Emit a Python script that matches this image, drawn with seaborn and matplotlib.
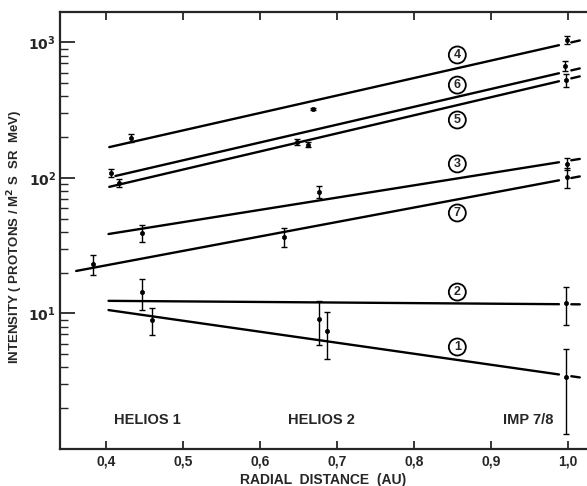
import numpy as np
import matplotlib.pyplot as plt
import seaborn as sns

# Proton intensity vs radial distance, channels 1-7
channels = ["1", "2", "3", "4", "5", "6", "7"]

# measured points (radial distance in AU, intensity, 1-sigma error)
r_pts = {
    "1": [0.460, 0.687, 0.997],
    "2": [0.447, 0.677, 0.997],
    "3": [0.447, 0.677, 0.998],
    "4": [0.432, 0.668, 0.999],
    "5": [0.417, 0.662, 0.997],
    "6": [0.406, 0.648, 0.996],
    "7": [0.383, 0.631, 0.998],
}
i_pts = {
    "1": [8.95, 7.43, 3.4],
    "2": [14.4, 9.1, 11.9],
    "3": [39.3, 78.9, 127],
    "4": [197, 323, 1043],
    "5": [92, 176, 529],
    "6": [109, 184, 671],
    "7": [23.2, 36.7, 101.7],
}
e_pts = {
    "1": [2.0, 2.8, 2.1],
    "2": [3.7, 3.2, 3.7],
    "3": [5.5, 8.0, 13],
    "4": [13, 6, 70],
    "5": [6, 8, 60],
    "6": [7, 9, 60],
    "7": [4.0, 5.7, 17],
}

# fitted gradients: start of fit and value at 1 AU
fit_r0 = [0.403, 0.403, 0.403, 0.404, 0.404, 0.412, 0.361]
fit_i0 = [10.6, 12.4, 38.6, 169, 86, 103.5, 20.6]
fit_i1 = [3.47, 11.7, 134, 990, 537, 615, 99]

# circled labels
label_r = 0.856
label_i = [5.66, 14.4, 127, 809, 268, 485, 55.2]

spacecraft = ["HELIOS 1", "HELIOS 2", "IMP 7/8"]
spacecraft_r = [0.453, 0.680, 0.948]

sns.set_style("ticks")
plt.rcParams['font.family'] = ['Liberation Sans', 'DejaVu Sans']
plt.rcParams['font.weight'] = 'bold'

fig = plt.figure(figsize=(5.87, 4.86), dpi=100)
ax = fig.add_axes([60 / 587, 37 / 486, 527 / 587, 437 / 486])
ax.set_yscale("log")

for k, ch in enumerate(channels):
    r0, i0, i1 = fit_r0[k], fit_i0[k], fit_i1[k]

    def fit(x):
        # straight line in log intensity through the two fit values
        return 10 ** (np.log10(i0) + (np.log10(i1) - np.log10(i0)) * (x - r0) / (1.0 - r0))

    xs = [r0, 0.988]
    sns.lineplot(x=xs, y=[fit(x) for x in xs], ax=ax, color="black", lw=1.7)
    xe = [1.004, 1.015]
    sns.lineplot(x=xe, y=[fit(x) for x in xe], ax=ax, color="black", lw=1.7)

    ax.errorbar(r_pts[ch], i_pts[ch], yerr=e_pts[ch], fmt="none",
                ecolor="black", elinewidth=1.0, capsize=2.5, capthick=1.0)
    sns.scatterplot(x=r_pts[ch], y=i_pts[ch], ax=ax, color="black", s=9,
                    edgecolor="black", linewidth=0.5, zorder=5)

    ax.text(label_r, label_i[k], ch, ha="center", va="center", fontsize=9,
            fontweight="bold",
            bbox=dict(boxstyle="circle,pad=0.2", fc="white", ec="black", lw=1.3))

for name, r in zip(spacecraft, spacecraft_r):
    ax.text(r, 1.64, name, ha="center", va="center", fontsize=10.5, fontweight="bold")

ax.set_xlim(0.34, 1.0244)
ax.set_ylim(1.0, 1679)

ax.set_xticks([0.4, 0.5, 0.6, 0.7, 0.8, 0.9, 1.0])
ax.set_xticklabels(["0,4", "0,5", "0,6", "0,7", "0,8", "0,9", "1,0"], fontweight="bold")
ax.set_yticks([10, 100, 1000])
ax.set_yticklabels([r"$\mathbf{10^1}$", r"$\mathbf{10^2}$", r"$\mathbf{10^3}$"])
ax.tick_params(axis="x", which="major", direction="in", length=6, width=1.3,
               top=True, labelsize=10, pad=4)
ax.tick_params(axis="y", which="major", direction="in", length=11, width=1.3,
               labelsize=10, pad=3)
ax.tick_params(axis="y", which="minor", direction="in", length=6, width=1.0)
ax.yaxis.set_minor_formatter(plt.NullFormatter())

for side in ["left", "bottom", "top"]:
    ax.spines[side].set_linewidth(1.6)
ax.spines["right"].set_visible(False)

ax.set_xlabel("RADIAL  DISTANCE  (AU)", fontsize=10, fontweight="bold", labelpad=3)
ax.set_ylabel(r"INTENSITY ( PROTONS / M$^\mathbf{2}$ S  SR  MeV)", fontsize=9.5,
              fontweight="bold", va="center")
ax.yaxis.set_label_coords(-45 / 527, 0.485)

fig.savefig("out.png", dpi=100)
